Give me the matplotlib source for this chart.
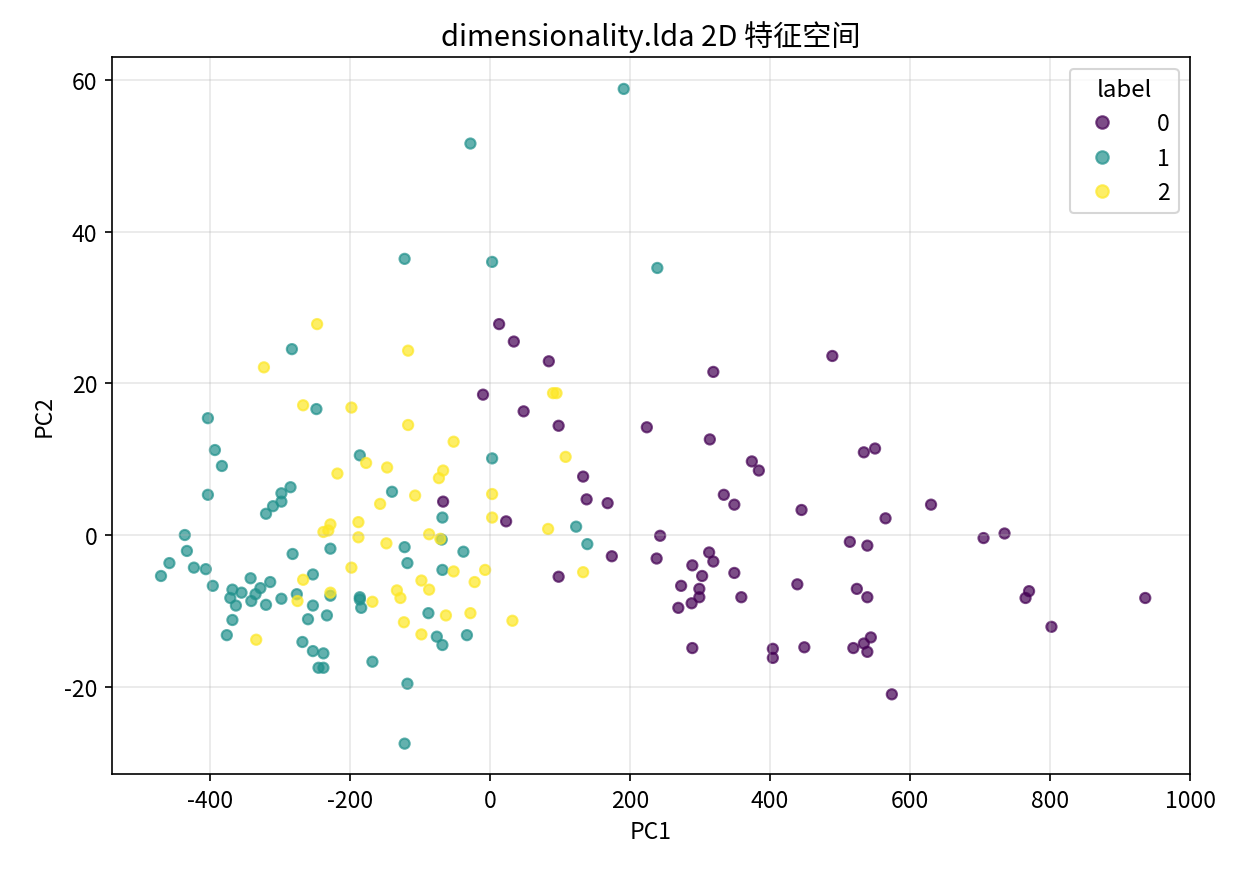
import numpy as np
import matplotlib.pyplot as plt

plt.rcParams['font.family'] = ['Noto Sans CJK SC', 'DejaVu Sans']
plt.rcParams['axes.unicode_minus'] = False
plt.rcParams['font.size'] = 11

# class 0 points (PC1, PC2)
pc1_0 = [13, 34, 84, 319, 489, -10, 48, 98, 224, 314, 374, 384, 534, 550,
         133, 138, 168, 334, 349, 445, 630, 565, -67, 23, 243, 514, 539, 705, 735,
         174, 238, 313, 319, 289, 349, 303, 98, 273, 439, 299, 299, 524, 539, 359, 288, 269,
         770, 765, 936, 802, 289, 404, 404, 449, 544, 534, 519, 539, 574]
pc2_0 = [27.8, 25.5, 22.9, 21.5, 23.6, 18.5, 16.3, 14.4, 14.2, 12.6, 9.7, 8.5, 10.9, 11.4,
         7.7, 4.7, 4.2, 5.3, 4.0, 3.3, 4.0, 2.2, 4.4, 1.8, -0.1, -0.9, -1.4, -0.4, 0.2,
         -2.8, -3.1, -2.3, -3.5, -4.0, -5.0, -5.4, -5.5, -6.7, -6.5, -7.1, -8.2, -7.1, -8.2, -8.2, -9.0, -9.6,
         -7.4, -8.3, -8.3, -12.1, -14.9, -15.0, -16.2, -14.8, -13.5, -14.3, -14.9, -15.4, -21.0]

# class 1 points
pc1_1 = [191, -28, -122, 3, 239, -283,
         -248, -403, -393, -383, -186, 3,
         -285, -298, -298, -310, -320, -403, -140,
         -68, 123, -436, -433, -282, -69, -228, -122, -38, 139,
         -458, -423, -406, -470, -118, -68, -253,
         -396, -342, -314, -328, -368, -355, -335, -371, -341, -320, -363, -298, -276,
         -228, -186, -186, -184, -253, -260, -233, -88,
         -368, -376, -76, -68, -33, -268, -253, -238, -245, -238, -168, -118, -122]
pc2_1 = [58.8, 51.6, 36.4, 36.0, 35.2, 24.5,
         16.6, 15.4, 11.2, 9.1, 10.5, 10.1,
         6.3, 5.5, 4.4, 3.8, 2.8, 5.3, 5.7,
         2.3, 1.1, 0.0, -2.1, -2.5, -0.6, -1.8, -1.6, -2.2, -1.2,
         -3.7, -4.3, -4.5, -5.4, -3.7, -4.6, -5.2,
         -6.7, -5.7, -6.2, -7.0, -7.2, -7.6, -7.8, -8.3, -8.7, -9.2, -9.3, -8.4, -7.8,
         -8.0, -8.2, -8.5, -9.6, -9.3, -11.1, -10.6, -10.3,
         -11.2, -13.2, -13.4, -14.5, -13.2, -14.1, -15.3, -15.6, -17.5, -17.5, -16.7, -19.6, -27.5]

# class 2 points
pc1_2 = [-247, -323, -117, 90, 95, -267, -198, -117, -52, 108,
         -177, -147, -218, -67, -73, -107, -157, 3, 3,
         -228, -238, -231, -188, -188, -87, -71, -148, 83,
         -198, -52, -7, 133, -267, -98, -22, -87, -133, -128, -228, -168, -275,
         -63, -28, -123, -98, 32, -334]
pc2_2 = [27.8, 22.1, 24.3, 18.7, 18.7, 17.1, 16.8, 14.5, 12.3, 10.3,
         9.5, 8.9, 8.1, 8.5, 7.5, 5.2, 4.1, 5.4, 2.3,
         1.4, 0.4, 0.6, 1.7, -0.3, 0.1, -0.5, -1.1, 0.8,
         -4.3, -4.8, -4.6, -4.9, -5.9, -6.0, -6.2, -7.2, -7.3, -8.3, -7.6, -8.8, -8.7,
         -10.6, -10.3, -11.5, -13.1, -11.3, -13.8]

pc1 = np.array(pc1_0 + pc1_1 + pc1_2)
pc2 = np.array(pc2_0 + pc2_1 + pc2_2)
labels = np.array([0] * len(pc1_0) + [1] * len(pc1_1) + [2] * len(pc1_2))

fig = plt.figure(figsize=(8.26, 5.833), dpi=150)
ax = fig.add_axes([0.0904, 0.1143, 0.8701, 0.8194])

sc = ax.scatter(pc1, pc2, c=labels, cmap='viridis', s=24, alpha=0.7)
ax.set_xlim(-540, 1000)
ax.set_ylim(-31.5, 63)
ax.set_xlabel('PC1')
ax.set_ylabel('PC2')
ax.set_title('dimensionality.lda 2D 特征空间', fontsize=14)
ax.grid(True, alpha=0.3)

handles, texts = sc.legend_elements()
ax.legend(handles, ['0', '1', '2'], title='label', loc='upper right',
          title_fontsize=11.5, handletextpad=1.4)

fig.savefig('out.png', dpi=150)
